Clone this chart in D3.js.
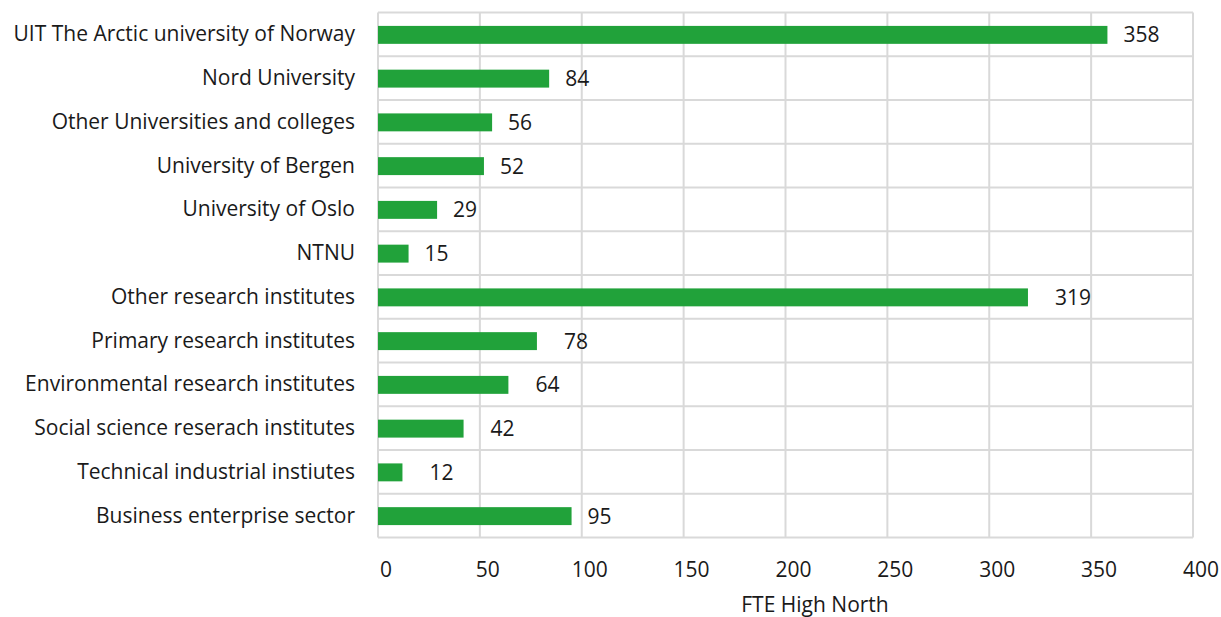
<!DOCTYPE html>
<html><head><meta charset="utf-8">
<script src="https://cdn.jsdelivr.net/npm/d3@7"></script>
<style>body{margin:0;background:#fff;} text{font-family:"Open Sans",sans-serif;fill:#1a1a1a;}</style>
</head><body><svg id="c" width="1221" height="617"></svg>
<script>
const categories = ["UIT The Arctic university of Norway","Nord University","Other Universities and colleges","University of Bergen","University of Oslo","NTNU","Other research institutes","Primary research institutes","Environmental research institutes","Social science reserach institutes","Technical industrial instiutes","Business enterprise sector"];
const values = [358,84,56,52,29,15,319,78,64,42,12,95];
const xTicks = [0,50,100,150,200,250,300,350,400];
const xTitle = "FTE High North";

const svg = d3.select("#c");
const m = {left:378, top:12.5, right:1193, bottom:537.5};
const x = d3.scaleLinear().domain([0,400]).range([m.left,m.right]);
const y = d3.scaleBand().domain(categories).range([m.top,m.bottom]).paddingInner(0).paddingOuter(0);
const grid = "#d9d9d9";
const fs = 21;
svg.append("g").selectAll("line").data(xTicks).join("line")
  .attr("x1",d=>x(d)).attr("x2",d=>x(d)).attr("y1",m.top).attr("y2",m.bottom)
  .attr("stroke",grid).attr("stroke-width",2);
const hs = categories.map(c=>y(c)).concat([m.bottom]);
svg.append("g").selectAll("line").data(hs).join("line")
  .attr("x1",m.left).attr("x2",m.right).attr("y1",d=>d).attr("y2",d=>d)
  .attr("stroke",grid).attr("stroke-width",2);
const bh = y.bandwidth()*0.41;
svg.append("g").selectAll("rect").data(categories).join("rect")
  .attr("x",x(0)).attr("y",d=>y(d)+y.bandwidth()/2-bh/2+0.5)
  .attr("width",(d,i)=>x(values[i])-x(0)).attr("height",bh)
  .attr("fill","#21a23a");
// value labels (research-institute rows sit a little further out in the original)
const gap = i => (i>=6 && i<=10) ? 27 : 16;
svg.append("g").selectAll("text").data(categories).join("text")
  .attr("x",(d,i)=>x(values[i])+gap(i)).attr("y",d=>y(d)+y.bandwidth()/2+8)
  .attr("font-size",fs).text((d,i)=>values[i]);
svg.append("g").selectAll("text").data(categories).join("text")
  .attr("x",355).attr("y",d=>y(d)+y.bandwidth()/2+7)
  .attr("text-anchor","end").attr("font-size",fs).text(d=>d);
svg.append("g").selectAll("text").data(xTicks).join("text")
  .attr("x",d=>x(d)+8).attr("y",577).attr("text-anchor","middle")
  .attr("font-size",fs).text(d=>d);
svg.append("text").attr("x",815).attr("y",612).attr("text-anchor","middle")
  .attr("font-size",fs).text(xTitle);
</script></body></html>
